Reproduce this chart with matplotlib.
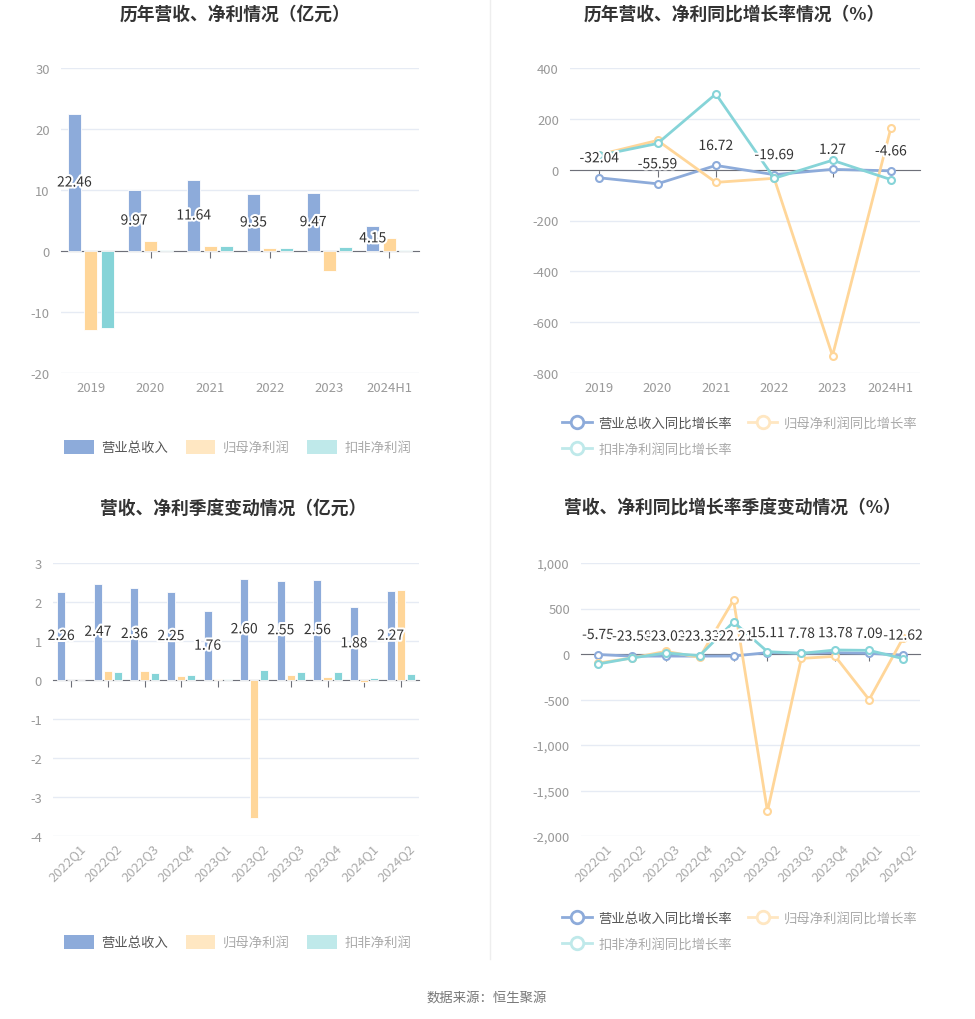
import numpy as np
import matplotlib
matplotlib.use("Agg")
import matplotlib.pyplot as plt
from matplotlib.patches import Patch
from matplotlib.lines import Line2D
from matplotlib.ticker import FuncFormatter
import matplotlib.patheffects as pe

plt.rcParams['font.family'] = ['Noto Sans CJK SC', 'DejaVu Sans']
plt.rcParams['axes.unicode_minus'] = False

# ---- data ----
years = ['2019', '2020', '2021', '2022', '2023', '2024H1']
rev_year = [22.46, 9.97, 11.64, 9.35, 9.47, 4.15]
np_year = [-12.9, 1.64, 0.82, 0.50, -3.33, 2.19]
kf_year = [-12.7, 0.20, 0.80, 0.50, 0.65, 0.20]

rev_yoy = [-32.04, -55.59, 16.72, -19.69, 1.27, -4.66]
np_yoy = [59, 115, -50, -34, -732, 163]
kf_yoy = [56, 103, 298, -34, 37, -39]

quarters = ['2022Q1', '2022Q2', '2022Q3', '2022Q4', '2023Q1',
            '2023Q2', '2023Q3', '2023Q4', '2024Q1', '2024Q2']
rev_q = [2.26, 2.47, 2.36, 2.25, 1.76, 2.60, 2.55, 2.56, 1.88, 2.27]
np_q = [0.01, 0.22, 0.22, 0.10, 0.02, -3.55, 0.12, 0.08, -0.06, 2.30]
kf_q = [0.01, 0.20, 0.18, 0.14, 0.02, 0.26, 0.20, 0.20, 0.04, 0.15]

rev_q_yoy = [-5.75, -23.58, -23.02, -23.33, -22.21, 15.11, 7.78, 13.78, 7.09, -12.62]
np_q_yoy = [-100, -44, 29, -37, 593, -1729, -48, -26, -502, 176]
kf_q_yoy = [-110, -44, 11, -18, 352, 26, 7, 44, 40, -51]

bar_names = ['营业总收入', '归母净利润', '扣非净利润']
line_names = ['营业总收入同比增长率', '归母净利润同比增长率', '扣非净利润同比增长率']

BLUE = '#8DABDA'
ORANGE = '#FFD699'
TEAL = '#86D4D8'
GRID = '#E6EBF4'
AXIS = '#6E7079'
TICK = '#999999'
TXT = '#333333'

W, H = 975, 1020
fig = plt.figure(figsize=(W / 100, H / 100), dpi=100)


def px_axes(x0, y0, x1, y1):
    return fig.add_axes([x0 / W, 1 - y1 / H, (x1 - x0) / W, (y1 - y0) / H])


def style(ax, cats, ylim, yticks, fmt=None, rotate=False):
    n = len(cats)
    ax.set_xlim(-0.5, n - 0.5)
    ax.set_ylim(*ylim)
    ax.set_yticks(yticks)
    if fmt:
        ax.yaxis.set_major_formatter(FuncFormatter(fmt))
    ax.grid(axis='y', color=GRID, lw=1)
    ax.set_axisbelow(True)
    for s in ['top', 'right', 'left']:
        ax.spines[s].set_visible(False)
    ax.spines['bottom'].set_position(('data', 0))
    ax.spines['bottom'].set_color(AXIS)
    ax.spines['bottom'].set_zorder(1)
    ax.set_xticks(range(n))
    ax.tick_params(axis='x', length=5, color=AXIS, labelbottom=False)
    ax.tick_params(axis='y', length=0, labelsize=9.4, labelcolor=TICK, pad=8)
    tr = ax.get_xaxis_transform()
    for i, c in enumerate(cats):
        if rotate:
            ax.text(i + 0.2, -0.02, c, transform=tr, rotation=45, ha='right',
                    va='top', fontsize=9.4, color='#AAAAAA', rotation_mode='anchor')
        else:
            ax.text(i, -0.025, c, transform=tr, ha='center', va='top',
                    fontsize=9.4, color=TICK)


halo = [pe.withStroke(linewidth=3, foreground='white')]


def bars(ax, cats, a, b, c):
    x = np.arange(len(cats))
    w, off = 0.22, 0.275
    ax.bar(x - off, a, w, color=BLUE, edgecolor='white', lw=0.6, zorder=2)
    ax.bar(x, b, w, color=ORANGE, edgecolor='white', lw=0.6, zorder=2)
    ax.bar(x + off, c, w, color=TEAL, edgecolor='white', lw=0.6, zorder=2)
    for i, v in enumerate(a):
        ax.text(i - off, v / 2, f'{v:.2f}', ha='center', va='center',
                fontsize=10, color=TXT, path_effects=halo, zorder=5)


def lines(ax, cats, a, b, c):
    x = np.arange(len(cats))
    for vals, col in [(a, BLUE), (b, ORANGE), (c, TEAL)]:
        ax.plot(x, vals, color=col, lw=2, marker='o', ms=5, mfc='white',
                mec=col, mew=1.5, zorder=3)
    for i, v in enumerate(a):
        ax.annotate(f'{v:.2f}', (i, v), xytext=(0, 9), textcoords='offset points',
                    ha='center', va='bottom', fontsize=10, color=TXT,
                    path_effects=halo, zorder=6)


def bar_legend(ax, x, y):
    hs = [Patch(fc=BLUE, ec='none'), Patch(fc='#FFE7C2', ec='none'),
          Patch(fc='#BFE9EA', ec='none')]
    lg = ax.legend(hs, bar_names, loc='center', bbox_to_anchor=(x, y),
                   bbox_transform=fig.transFigure, ncol=3, frameon=False,
                   handlelength=2.2, handleheight=1.2, columnspacing=1.3,
                   handletextpad=0.6, fontsize=9.6)
    for t, col in zip(lg.get_texts(), ['#555555', '#AAAAAA', '#AAAAAA']):
        t.set_color(col)


def line_legend(ax, x, y):
    mk = dict(lw=2, marker='o', ms=9, mfc='white', mew=2)
    h0 = Line2D([], [], color=BLUE, mec=BLUE, **mk)
    h1 = Line2D([], [], color='#FFE7C2', mec='#FFE7C2', **mk)
    h2 = Line2D([], [], color='#BFE9EA', mec='#BFE9EA', **mk)
    lg = ax.legend([h0, h2, h1], [line_names[0], line_names[2], line_names[1]],
                   loc='upper left', bbox_to_anchor=(x, y),
                   bbox_transform=fig.transFigure, ncol=2, frameon=False,
                   handlelength=2.2, columnspacing=1.2, handletextpad=0.5,
                   labelspacing=0.95, fontsize=9.6, borderaxespad=0)
    for t, col in zip(lg.get_texts(), ['#555555', '#AAAAAA', '#AAAAAA']):
        t.set_color(col)


# ---- chart 1 ----
ax1 = px_axes(61, 69, 419, 374)
style(ax1, years, (-20, 30), [-20, -10, 0, 10, 20, 30])
bars(ax1, years, rev_year, np_year, kf_year)
bar_legend(ax1, 238 / W, 1 - 448 / H)
fig.text(235 / W, 1 - 15 / H, '历年营收、净利情况（亿元）', ha='center', va='center',
         fontsize=12.8, fontweight='bold', color=TXT)

# ---- chart 2 ----
ax2 = px_axes(570, 69, 920, 374)
style(ax2, years, (-800, 400), [-800, -600, -400, -200, 0, 200, 400])
lines(ax2, years, rev_yoy, np_yoy, kf_yoy)
line_legend(ax2, 557 / W, 1 - 411 / H)
fig.text(734 / W, 1 - 15 / H, '历年营收、净利同比增长率情况（%）', ha='center', va='center',
         fontsize=12.8, fontweight='bold', color=TXT)

# ---- chart 3 ----
ax3 = px_axes(53, 564, 419, 837)
style(ax3, quarters, (-4, 3), [-4, -3, -2, -1, 0, 1, 2, 3], rotate=True)
bars(ax3, quarters, rev_q, np_q, kf_q)
bar_legend(ax3, 238 / W, 1 - 943 / H)
fig.text(233 / W, 1 - 509 / H, '营收、净利季度变动情况（亿元）', ha='center', va='center',
         fontsize=12.8, fontweight='bold', color=TXT)

# ---- chart 4 ----
ax4 = px_axes(581, 564, 920, 837)
style(ax4, quarters, (-2000, 1000), [-2000, -1500, -1000, -500, 0, 500, 1000],
      fmt=lambda v, p: f'{v:,.0f}', rotate=True)
lines(ax4, quarters, rev_q_yoy, np_q_yoy, kf_q_yoy)
line_legend(ax4, 557 / W, 1 - 906 / H)
fig.text(732 / W, 1 - 509 / H, '营收、净利同比增长率季度变动情况（%）', ha='center', va='center',
         fontsize=12.8, fontweight='bold', color=TXT)

# separator and source
fig.add_artist(Line2D([490 / W, 490 / W], [1 - 960 / H, 1.0], color='#EEEEEE', lw=1))
fig.text(487 / W, 1 - 998 / H, '数据来源：恒生聚源', ha='center', va='center',
         fontsize=9.6, color='#777777')

fig.savefig('out.png', dpi=100, facecolor='white')
